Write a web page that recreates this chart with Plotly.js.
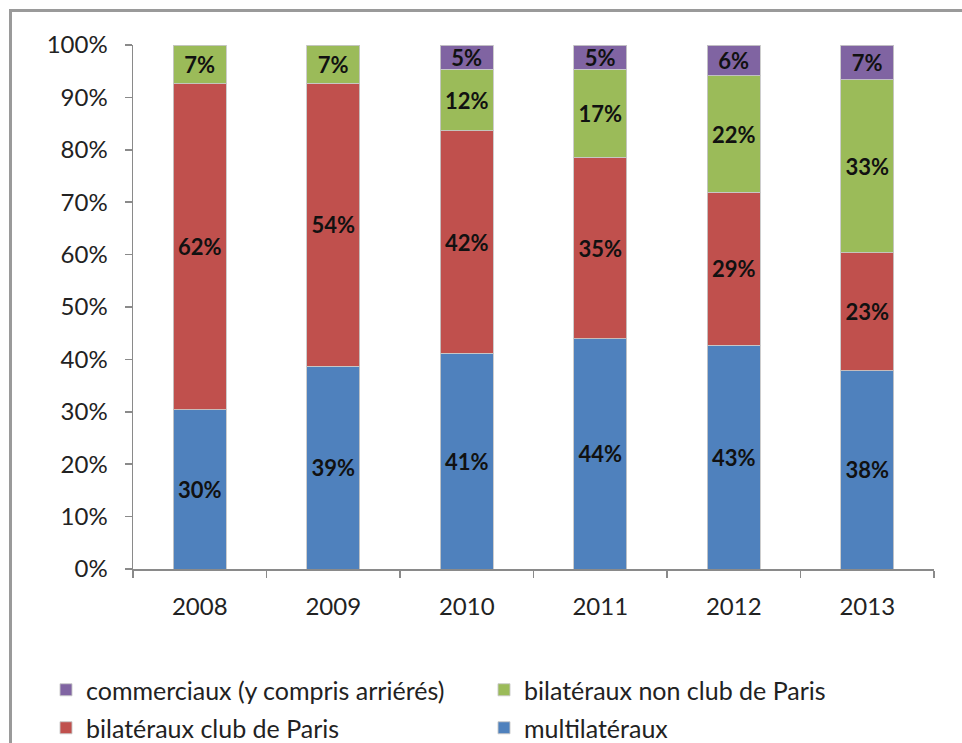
<!DOCTYPE html>
<html>
<head>
<meta charset="utf-8">
<script src="https://cdn.plot.ly/plotly-3.0.1.min.js"></script>
<style>
  html, body { margin: 0; padding: 0; background: #fff; }
  #wrap { position: relative; width: 962px; height: 743px; overflow: hidden; }
  #chart { position: absolute; left: 0; top: 0; width: 962px; height: 743px; }
  .frameTop { position: absolute; left: 9px; top: 9px; width: 953px; height: 3px; background: #9a9a9a; z-index: 5; }
  .frameLeft { position: absolute; left: 9px; top: 9px; width: 3px; height: 734px; background: #9a9a9a; z-index: 5; }
</style>
</head>
<body>
<div id="wrap">
  <div id="chart"></div>
  <div class="frameTop"></div>
  <div class="frameLeft"></div>
</div>
<script>
const years = ['2008', '2009', '2010', '2011', '2012', '2013'];
const multilateraux = [30.4, 38.7, 41.2, 43.9, 42.7, 37.8];
const bilatClubParis = [62.2, 54.0, 42.4, 34.7, 29.2, 22.6];
const bilatNonClubParis = [7.4, 7.3, 11.8, 16.8, 22.2, 33.0];
const commerciaux = [null, null, 4.6, 4.6, 5.9, 6.6];
const seriesNames = ['multilatéraux', 'bilatéraux club de Paris', 'bilatéraux non club de Paris', 'commerciaux (y compris arriérés)'];
const yTickVals = [0, 10, 20, 30, 40, 50, 60, 70, 80, 90, 100];
const yTickLabels = ['0%', '10%', '20%', '30%', '40%', '50%', '60%', '70%', '80%', '90%', '100%'];

const colors = ['#4F81BD', '#C0504D', '#9BBB59', '#8064A2'];
const font = 'Lato, "Open Sans", sans-serif';

function bar(y, name, color, legend) {
  return {
    type: 'bar', x: years, y: y, name: name,
    marker: { color: color, line: { color: 'rgba(200,200,200,0.9)', width: 1 } },
    texttemplate: '%{y:.0f}%', textposition: 'inside', insidetextanchor: 'middle',
    textangle: 0, constraintext: 'none',
    textfont: { family: font, size: 22, color: '#111', weight: 'bold' },
    hoverinfo: 'skip', legend: legend
  };
}

const data = [
  bar(multilateraux, seriesNames[0], colors[0], 'legend4'),
  bar(bilatClubParis, seriesNames[1], colors[1], 'legend3'),
  bar(bilatNonClubParis, seriesNames[2], colors[2], 'legend2'),
  bar(commerciaux, seriesNames[3], colors[3], 'legend')
];

function leg(xpx, ypx) {
  return {
    orientation: 'h', xanchor: 'left', yanchor: 'middle',
    xref: 'container', yref: 'container',
    x: xpx / 962, y: 1 - ypx / 743,
    font: { family: font, size: 25, color: '#222' },
    bgcolor: 'rgba(0,0,0,0)', borderwidth: 0
  };
}

const layout = {
  width: 962, height: 743,
  margin: { l: 133, r: 28, t: 45, b: 174, autoexpand: false },
  paper_bgcolor: '#fff', plot_bgcolor: '#fff',
  barmode: 'stack', bargap: 0.6,
  showlegend: true,
  uniformtext: { mode: 'show', minsize: 22 },
  font: { family: font, color: '#222' },
  xaxis: {
    type: 'category', showgrid: false, zeroline: false,
    showline: true, linecolor: '#8a8a8a', linewidth: 1.5,
    ticks: 'outside', tickson: 'boundaries', ticklen: 7, tickcolor: '#8a8a8a', tickwidth: 1.5,
    tickfont: { family: font, size: 24, color: '#222' }, ticklabelstandoff: 16
  },
  yaxis: {
    range: [0, 100], tickmode: 'array',
    tickvals: yTickVals, ticktext: yTickLabels,
    showgrid: false, zeroline: false,
    showline: true, linecolor: '#8a8a8a', linewidth: 1.5,
    ticks: 'outside', ticklen: 7, tickcolor: '#8a8a8a', tickwidth: 1.5,
    tickfont: { family: font, size: 24, color: '#222' }, ticklabelstandoff: 12
  },
  legend: leg(46, 690),
  legend2: leg(484, 690),
  legend3: leg(46, 728),
  legend4: leg(484, 728)
};

Plotly.newPlot('chart', data, layout, { displayModeBar: false, staticPlot: true });
</script>
</body>
</html>
